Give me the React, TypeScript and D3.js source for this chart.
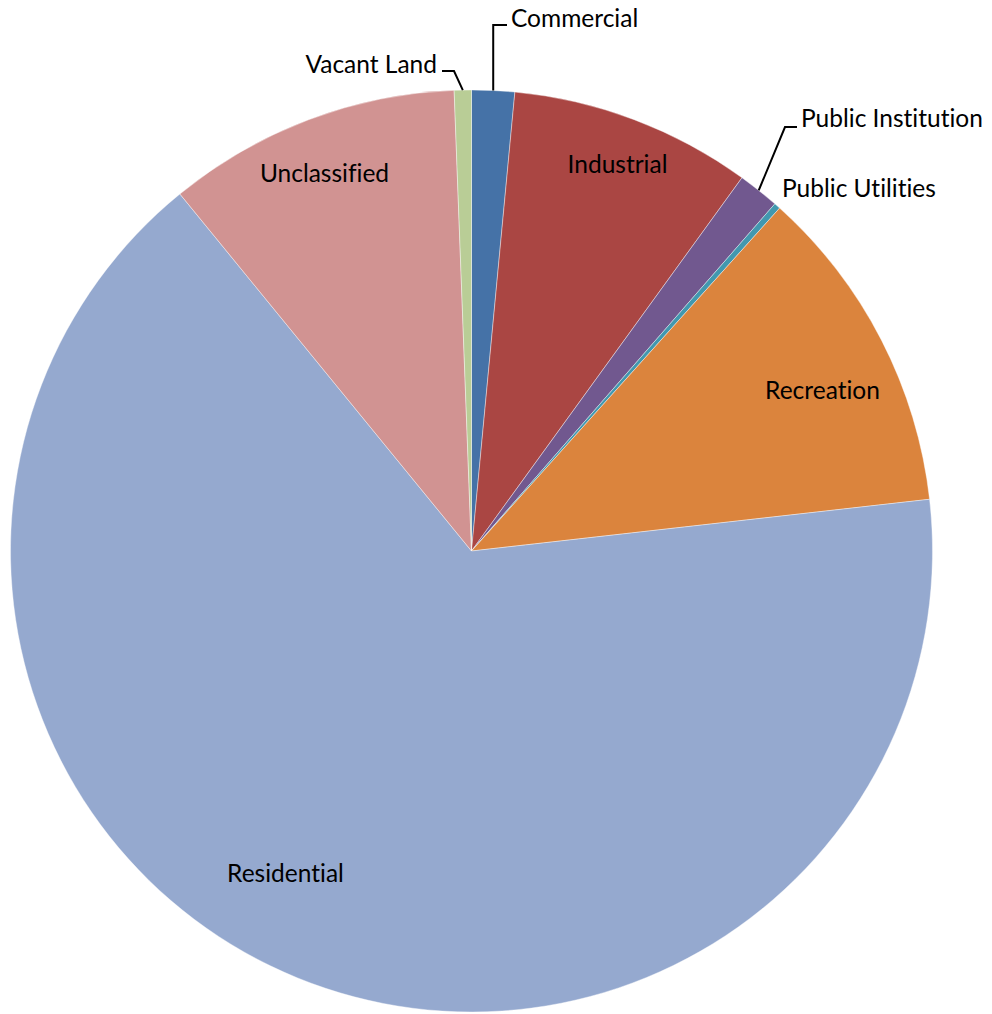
import React from "react";
import * as d3 from "d3";

const categories = [
  "Commercial",
  "Industrial",
  "Public Institution",
  "Public Utilities",
  "Recreation",
  "Residential",
  "Unclassified",
  "Vacant Land",
];
const values = [1.5, 8.48, 1.45, 0.22, 11.56, 65.89, 10.3, 0.6];
const colors = [
  "#4572A7",
  "#AA4643",
  "#71588F",
  "#4198AF",
  "#DB843D",
  "#95A9CF",
  "#D19392",
  "#B9CD96",
];

const W = 992;
const H = 1014;
const CX = 471.5;
const CY = 551;
const R = 461;
const FONT = "Lato, 'Open Sans', sans-serif";
const FS = 24.5;

type LabelLayout = {
  x: number;
  y: number;
  anchor: "start" | "middle" | "end";
  leader?: { ex: number; ey: number; hx: number };
};

const labelLayout: Record<string, LabelLayout> = {
  Commercial: { x: 511, y: 27, anchor: "start", leader: { ex: 0, ey: 25, hx: 507 } },
  Industrial: { x: 617.5, y: 173, anchor: "middle" },
  "Public Institution": { x: 801, y: 127, anchor: "start", leader: { ex: 785, ey: 127, hx: 797 } },
  "Public Utilities": { x: 782, y: 197, anchor: "start" },
  Recreation: { x: 822.5, y: 399, anchor: "middle" },
  Residential: { x: 285.5, y: 882, anchor: "middle" },
  Unclassified: { x: 324.5, y: 182, anchor: "middle" },
  "Vacant Land": { x: 437, y: 73, anchor: "end", leader: { ex: 454, ey: 71, hx: 442 } },
};

export default function App() {
  const data = categories.map((c, i) => ({ name: c, value: values[i], color: colors[i] }));
  const pie = d3
    .pie<{ name: string; value: number; color: string }>()
    .sort(null)
    .value((d) => d.value)
    .startAngle(0)
    .endAngle(2 * Math.PI);
  const arcs = pie(data);
  const arc = d3
    .arc<d3.PieArcDatum<{ name: string; value: number; color: string }>>()
    .innerRadius(0)
    .outerRadius(R);

  return (
    <svg
      width={W}
      height={H}
      style={{ position: "absolute", left: 0, top: 0, background: "#fff" }}
    >
      <g transform={`translate(${CX},${CY})`}>
        {arcs.map((a, i) => (
          <path
            key={i}
            d={arc(a) || ""}
            fill={a.data.color}
            stroke="#ffffff"
            strokeOpacity={0.5}
            strokeWidth={0.8}
          />
        ))}
      </g>
      {arcs.map((a, i) => {
        const lay = labelLayout[a.data.name];
        if (!lay || !lay.leader) return null;
        const mid = (a.startAngle + a.endAngle) / 2;
        const sx = CX + R * Math.sin(mid);
        const sy = CY - R * Math.cos(mid);
        const ex = lay.leader.ex === 0 ? sx : lay.leader.ex;
        return (
          <polyline
            key={"l" + i}
            points={`${sx},${sy} ${ex},${lay.leader.ey} ${lay.leader.hx},${lay.leader.ey}`}
            fill="none"
            stroke="#000"
            strokeWidth={2}
          />
        );
      })}
      {arcs.map((a, i) => {
        const lay = labelLayout[a.data.name];
        return (
          <text
            key={"t" + i}
            x={lay.x}
            y={lay.y}
            textAnchor={lay.anchor}
            fontFamily={FONT}
            fontSize={FS}
            fill="#000"
            style={{ fontVariantLigatures: "none" }}
          >
            {a.data.name}
          </text>
        );
      })}
    </svg>
  );
}
